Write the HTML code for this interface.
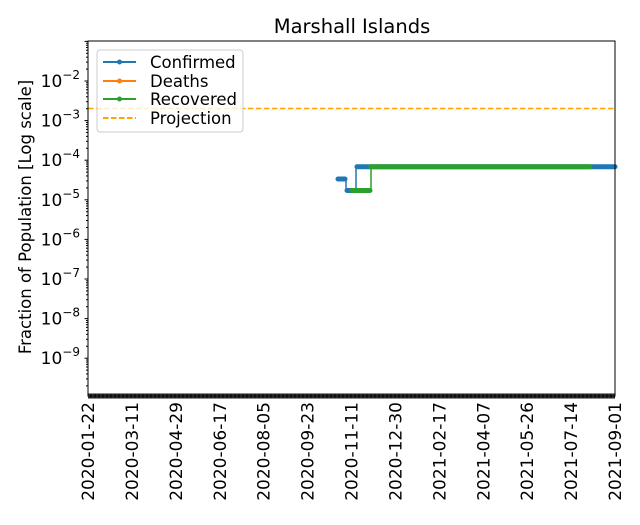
<!DOCTYPE html>
<html><head><meta charset="utf-8"><style>
body{margin:0;background:#fff;}
svg text{font-family:"DejaVu Sans","Liberation Sans",sans-serif;fill:#000;}
</style></head><body>
<svg width="640" height="520" xmlns="http://www.w3.org/2000/svg">
<rect width="640" height="520" fill="#fff"/>
<text x="352" y="33" font-size="19.5" text-anchor="middle">Marshall Islands</text>
<!-- projection -->
<line x1="88" y1="108.5" x2="615" y2="108.5" stroke="#ffa500" stroke-width="1.5" stroke-dasharray="5.5,2.5"/>
<!-- confirmed -->
<polyline points="337,179 346,179 346,190.5 356,190.5 356,166.7 615,166.7" fill="none" stroke="#1f77b4" stroke-width="1.5"/>
<line x1="338" y1="179" x2="345" y2="179" stroke="#1f77b4" stroke-width="5" stroke-linecap="round"/>
<line x1="347" y1="190.5" x2="355" y2="190.5" stroke="#1f77b4" stroke-width="5" stroke-linecap="round"/>
<line x1="357" y1="166.7" x2="615" y2="166.7" stroke="#1f77b4" stroke-width="5" stroke-linecap="round"/>
<!-- recovered -->
<polyline points="351,190.5 371,190.5 371,166.7 590,166.7" fill="none" stroke="#2ca02c" stroke-width="1.5"/>
<line x1="352" y1="190.5" x2="370" y2="190.5" stroke="#2ca02c" stroke-width="5" stroke-linecap="round"/>
<line x1="371" y1="166.7" x2="590" y2="166.7" stroke="#2ca02c" stroke-width="5" stroke-linecap="round"/>
<!-- bottom band -->
<line x1="88" y1="396" x2="615" y2="396" stroke="#1a1a1a" stroke-width="5"/>
<line x1="88" y1="396" x2="615" y2="396" stroke="#444" stroke-width="3" stroke-dasharray="2,2"/>
<!-- axes -->
<rect x="88" y="41" width="527" height="355" fill="none" stroke="#000" stroke-width="1"/>
<g stroke="#000" stroke-width="1" id="yt"></g>
<g font-size="17" text-anchor="end" id="yl"></g>
<g font-size="17" id="xl"></g>
<text transform="translate(31,217) rotate(-90)" font-size="16.5" text-anchor="middle">Fraction of Population [Log scale]</text>
<!-- legend -->
<rect x="97" y="50" width="146" height="82" rx="3" fill="#fff" fill-opacity="0.8" stroke="#ccc"/>
<line x1="103" y1="62" x2="136" y2="62" stroke="#1f77b4" stroke-width="2"/><circle cx="119.5" cy="62" r="2.5" fill="#1f77b4"/>
<line x1="103" y1="81" x2="136" y2="81" stroke="#ff7f0e" stroke-width="2"/><circle cx="119.5" cy="81" r="2.5" fill="#ff7f0e"/>
<line x1="103" y1="99" x2="136" y2="99" stroke="#2ca02c" stroke-width="2"/><circle cx="119.5" cy="99" r="2.5" fill="#2ca02c"/>
<line x1="103" y1="118" x2="136" y2="118" stroke="#ffa500" stroke-width="2" stroke-dasharray="5.5,2.5"/>
<text x="150" y="68" font-size="16.5">Confirmed</text>
<text x="150" y="87" font-size="16.5">Deaths</text>
<text x="150" y="105" font-size="16.5">Recovered</text>
<text x="150" y="124" font-size="16.5">Projection</text>
</svg>
<script>
var ns="http://www.w3.org/2000/svg";
var yt=document.getElementById("yt"),yl=document.getElementById("yl"),xl=document.getElementById("xl");
function y(e){return 81+(-2-e)*39.6;}
for(var e=-10;e<=-1;e++){
 var Y=y(e);
 if(Y>=41&&Y<=396){var l=document.createElementNS(ns,"line");l.setAttribute("x1",84.5);l.setAttribute("x2",88);l.setAttribute("y1",Y);l.setAttribute("y2",Y);yt.appendChild(l);}
 for(var k=2;k<10;k++){var Ym=Y-Math.log10(k)*39.6;if(Ym<41||Ym>396)continue;var m=document.createElementNS(ns,"line");m.setAttribute("x1",86);m.setAttribute("x2",88);m.setAttribute("y1",Ym);m.setAttribute("y2",Ym);yt.appendChild(m);}
 if(e>=-9&&e<=-2){var t=document.createElementNS(ns,"text");t.setAttribute("x",80);t.setAttribute("y",Y+6);t.innerHTML='10<tspan dy="-8" font-size="12">−'+(-e)+'</tspan>';yl.appendChild(t);}
}
var d=["2020-01-22","2020-03-11","2020-04-29","2020-06-17","2020-08-05","2020-09-23","2020-11-11","2020-12-30","2021-02-17","2021-04-07","2021-05-26","2021-07-14","2021-09-01"];
for(var i=0;i<d.length;i++){var X=88+i*527/12;var t=document.createElementNS(ns,"text");t.setAttribute("transform","translate("+(X+6)+",402) rotate(-90)");t.setAttribute("text-anchor","end");t.textContent=d[i];xl.appendChild(t);}
</script>
</body></html>
